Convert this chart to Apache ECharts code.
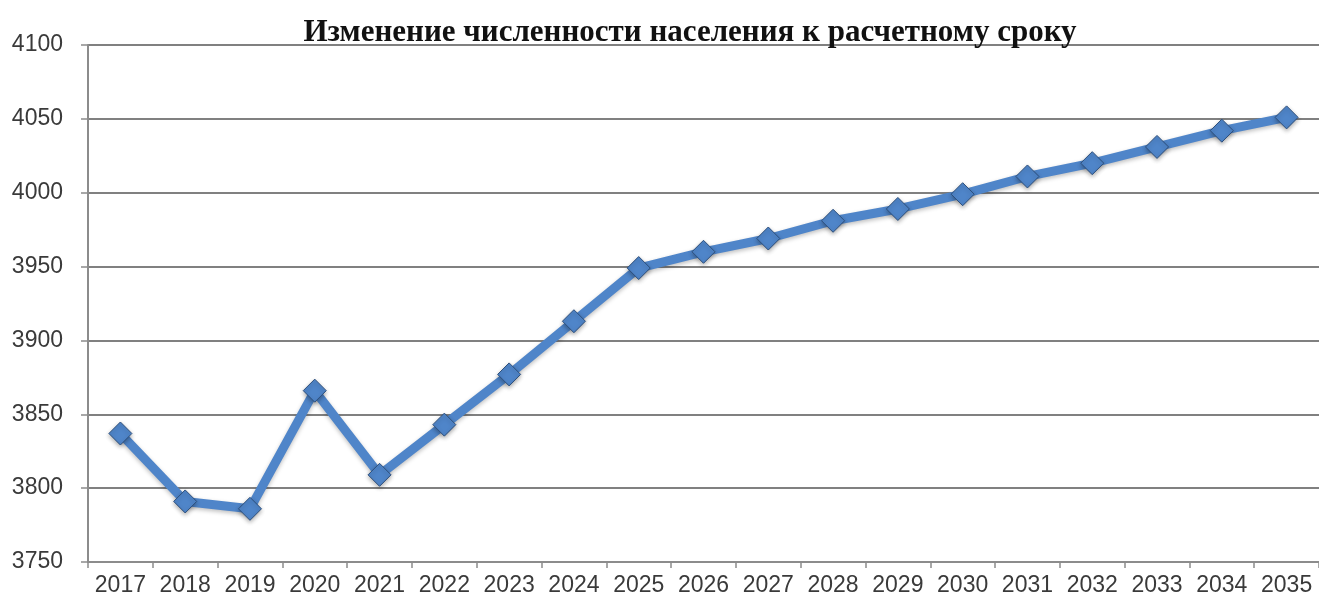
<!DOCTYPE html>
<html>
<head>
<meta charset="utf-8">
<title>Изменение численности населения</title>
<script src="https://cdn.jsdelivr.net/npm/echarts@6/dist/echarts.min.js"></script>
<style>
  html, body { margin: 0; padding: 0; background: #fff; }
  #chart { width: 1319px; height: 602px; }
</style>
</head>
<body>
<div id="chart"></div>
<script>
// годы (категории)
var years = ['2017', '2018', '2019', '2020', '2021', '2022', '2023', '2024', '2025', '2026',
  '2027', '2028', '2029', '2030', '2031', '2032', '2033', '2034', '2035'];
// численность населения, чел.
var population = [3837, 3791, 3786, 3866, 3809, 3843, 3877, 3913, 3949, 3960,
  3969, 3981, 3989, 3999, 4011, 4020, 4031, 4042, 4051];
var yMin = 3750;
var yMax = 4100;
var yStep = 50;

var chartTitle = 'Изменение численности населения к расчетному сроку';

var myChart = echarts.init(document.getElementById('chart'));

var labelFont = {
  fontFamily: 'Liberation Sans, Arial, sans-serif',
  fontSize: 23,
  color: '#3a3a3a'
};

var option = {
  backgroundColor: '#ffffff',
  animation: false,
  title: {
    text: chartTitle,
    left: 685,
    textAlign: 'center',
    top: 12,
    textStyle: {
      fontFamily: 'Liberation Serif, Times New Roman, serif',
      fontWeight: 'bold',
      fontSize: 31,
      color: '#111'
    }
  },
  grid: {
    left: 88,
    top: 45,
    width: 1235,
    height: 517,
    containLabel: false
  },
  xAxis: {
    type: 'category',
    data: years,
    boundaryGap: true,
    axisLine: { lineStyle: { color: '#8c8c8c', width: 2 } },
    axisTick: { show: true, length: 6, lineStyle: { color: '#8c8c8c', width: 1.5 } },
    axisLabel: Object.assign({ margin: 12, interval: 0 }, labelFont),
    splitLine: { show: false }
  },
  yAxis: {
    type: 'value',
    min: yMin,
    max: yMax,
    interval: yStep,
    axisLine: { show: true, lineStyle: { color: '#8c8c8c', width: 2 } },
    axisTick: { show: true, length: 7, lineStyle: { color: '#8c8c8c', width: 1.5 } },
    axisLabel: Object.assign({
      margin: 25,
      formatter: function (v) { return String(v); }
    }, labelFont),
    splitLine: { show: true, lineStyle: { color: '#808080', width: 2 } }
  },
  series: [
    {
      name: 'Население',
      type: 'line',
      data: population,
      symbol: 'diamond',
      symbolSize: 23,
      lineStyle: {
        color: '#4f85c9',
        width: 9,
        shadowColor: 'rgba(0,0,0,0.25)',
        shadowBlur: 4,
        shadowOffsetY: 2
      },
      itemStyle: {
        color: '#4f85c9',
        borderColor: '#2d4f7c',
        borderWidth: 1,
        shadowColor: 'rgba(0,0,0,0.3)',
        shadowBlur: 4,
        shadowOffsetY: 2
      },
      z: 3
    }
  ]
};

myChart.setOption(option);
</script>
</body>
</html>
